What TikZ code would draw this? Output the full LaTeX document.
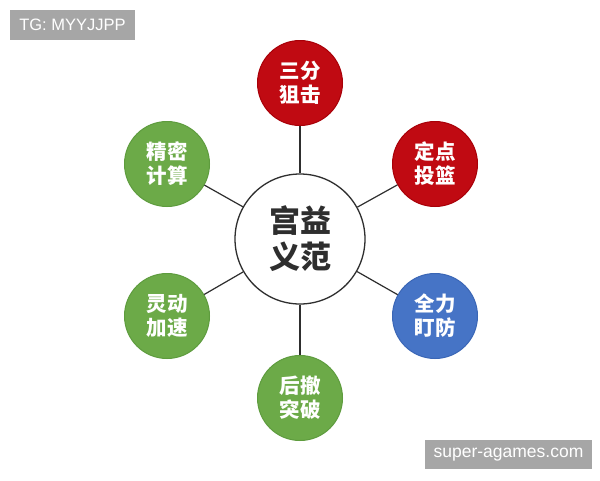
\documentclass[tikz,border=0pt]{standalone}
\usepackage{fontspec}
\setmainfont{Liberation Sans}
\newfontfamily\cjk{Noto Sans CJK SC}
\definecolor{cred}{HTML}{C00A12}
\definecolor{credd}{HTML}{A80008}
\definecolor{cgreen}{HTML}{6CAA48}
\definecolor{cgreend}{HTML}{5E9C3E}
\definecolor{cblue}{HTML}{4674C6}
\definecolor{cblued}{HTML}{3A66B6}
\definecolor{wmgray}{HTML}{A6A6A6}
\definecolor{ctext}{HTML}{2E2E2E}
\begin{document}
\begin{tikzpicture}[x=1pt,y=-1pt,
  outer/.style={circle,minimum size=85pt,inner sep=0pt,text=white,
    font=\cjk\bfseries\fontsize{20.5}{24}\selectfont,align=center},
  redc/.style={outer,fill=cred,draw=credd,line width=1pt},
  greenc/.style={outer,fill=cgreen,draw=cgreend,line width=1pt},
  bluec/.style={outer,fill=cblue,draw=cblued,line width=1pt},
  hub/.style={circle,minimum size=130pt,inner sep=0pt,draw=ctext,line width=1.3pt,
    fill=white,text=ctext,font=\cjk\bfseries\fontsize{31}{36}\selectfont,align=center},
  spoke/.style={draw=ctext,line width=1.2pt},
  wm/.style={fill=wmgray,text=white,inner sep=0pt}]
\useasboundingbox (0,0) rectangle (600,480);
\fill[white] (0,0) rectangle (600,480);
\node[hub] (c) at (300,239) {宫益\\义范};
\node[redc] (t) at (300,83) {三分\\狙击};
\node[redc] (tr) at (435,164) {定点\\投篮};
\node[bluec] (br) at (435,316) {全力\\盯防};
\node[greenc] (b) at (300,398) {后撤\\突破};
\node[greenc] (bl) at (167,316) {灵动\\加速};
\node[greenc] (tl) at (167,164) {精密\\计算};
\foreach \n in {t,tr,br,b,bl,tl} \draw[spoke] (c) -- (\n);
\node[wm,minimum width=125pt,minimum height=30pt,font=\fontsize{16.5}{18}\selectfont] (w1) at (72.5,25) {TG: MYYJJPP};
\node[wm,minimum width=167pt,minimum height=29pt,font=\fontsize{17.5}{20}\selectfont] (w2) at (508.5,454.5) {super-agames.com};
\end{tikzpicture}
\end{document}
